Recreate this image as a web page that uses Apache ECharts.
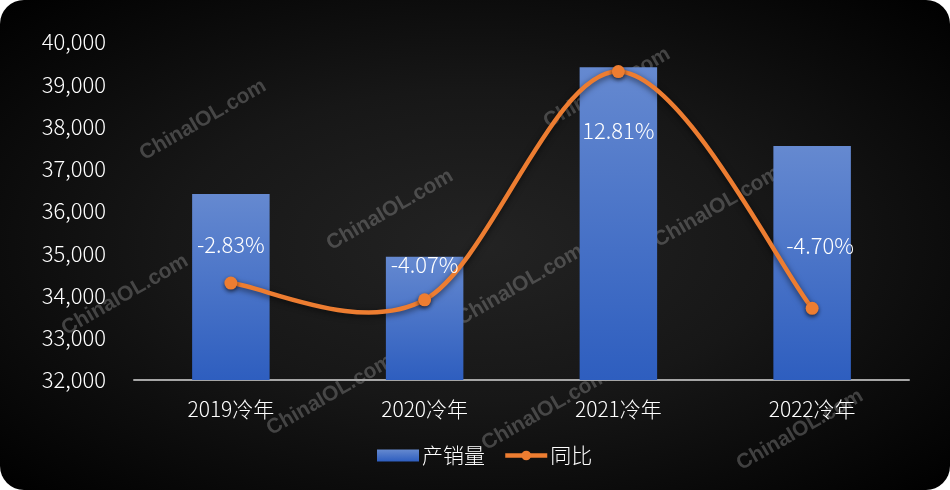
<!DOCTYPE html>
<html>
<head>
<meta charset="utf-8">
<script src="https://cdn.jsdelivr.net/npm/echarts@6/dist/echarts.min.js"></script>
<style>
  html, body { margin: 0; padding: 0; background: #ffffff; }
  #chart {
    width: 950px;
    height: 490px;
    border-radius: 24px;
    overflow: hidden;
    background: radial-gradient(ellipse at 50% 50%, #232323 0%, #171717 45%, #000000 100%);
  }
</style>
</head>
<body>
<div id="chart"></div>
<script>
// 冷年产销量及同比
const categories = ['2019冷年', '2020冷年', '2021冷年', '2022冷年']
const volumeValues = [36400, 34920, 39400, 37540]
const yoyValues = [-2.83, -4.07, 12.81, -4.70]
const yTicks = [32000, 33000, 34000, 35000, 36000, 37000, 38000, 39000, 40000]

// where each 同比 label sits relative to its point
const labelOffsets = [[0, -38], [0, -35], [0, 59], [8, -63]]

// watermark spots (center x, y)
const marks = [
  [203, 120], [390, 210], [125, 295], [520, 285], [607, 88],
  [717, 207], [330, 395], [545, 410], [800, 430]
]

const chart = echarts.init(document.getElementById('chart'))

const lineFont = 'Noto Sans CJK SC'
const orange = '#ed7d31'

// excel-like smoothed segment between point i and i+1
function renderCurve(params, api) {
  const i = params.dataIndex
  const n = yoyValues.length
  if (i >= n - 1) return null
  const P = k => {
    const j = Math.max(0, Math.min(n - 1, k))
    return api.coord([j, yoyValues[j]])
  }
  const p0 = P(i - 1), p1 = P(i), p2 = P(i + 1), p3 = P(i + 2)
  return {
    type: 'bezierCurve',
    shape: {
      x1: p1[0], y1: p1[1],
      x2: p2[0], y2: p2[1],
      cpx1: p1[0] + (p2[0] - p0[0]) / 6,
      cpy1: p1[1] + (p2[1] - p0[1]) / 6,
      cpx2: p2[0] - (p3[0] - p1[0]) / 6,
      cpy2: p2[1] - (p3[1] - p1[1]) / 6
    },
    style: {
      fill: null,
      stroke: orange,
      lineWidth: 4.5,
      lineCap: 'round',
      shadowColor: 'rgba(0,0,0,0.6)',
      shadowBlur: 6,
      shadowOffsetY: 2
    }
  }
}

const option = {
  backgroundColor: 'transparent',
  grid: {
    left: 134,
    right: 41,
    top: 42,
    bottom: 110
  },
  graphic: marks.map(m => ({
    type: 'text',
    x: m[0],
    y: m[1],
    rotation: Math.PI / 6,
    z: 0,
    zlevel: 0,
    silent: true,
    style: {
      text: 'ChinaIOL.com',
      fill: 'rgba(140,140,140,0.42)',
      font: 'bold 21px "Liberation Sans", Arial, sans-serif',
      align: 'center',
      verticalAlign: 'middle'
    }
  })),
  legend: {
    bottom: 19,
    left: 372,
    itemWidth: 42,
    itemHeight: 12,
    itemGap: 18,
    textStyle: {
      color: '#ffffff',
      fontSize: 21,
      fontFamily: lineFont,
      fontWeight: 300,
      padding: [0, 0, 0, -2]
    },
    data: [
      { name: '产销量', icon: 'rect' },
      { name: '同比', lineStyle: { color: orange, width: 4.5, opacity: 1 } }
    ]
  },
  xAxis: {
    type: 'category',
    data: categories,
    axisTick: { show: false },
    axisLine: { onZero: false, lineStyle: { color: '#a6a6a6', width: 2 } },
    axisLabel: {
      color: '#ffffff',
      fontSize: 21,
      fontFamily: lineFont,
      fontWeight: 300,
      margin: 19
    }
  },
  yAxis: [
    {
      type: 'value',
      min: yTicks[0],
      max: yTicks[yTicks.length - 1],
      interval: 1000,
      splitLine: { show: false },
      axisLine: { show: false },
      axisTick: { show: false },
      axisLabel: {
        color: '#ffffff',
        fontSize: 22,
        fontFamily: lineFont,
        fontWeight: 300,
        margin: 28,
        formatter: v => v.toLocaleString('en-US')
      }
    },
    {
      type: 'value',
      min: -10,
      max: 15,
      show: false,
      splitLine: { show: false }
    }
  ],
  series: [
    {
      name: '产销量',
      type: 'bar',
      data: volumeValues,
      barWidth: '40%',
      zlevel: 1,
      z: 2,
      itemStyle: {
        color: new echarts.graphic.LinearGradient(0, 0, 0, 1, [
          { offset: 0, color: '#6589d0' },
          { offset: 1, color: '#2e5ebf' }
        ])
      }
    },
    {
      name: '同比曲线',
      type: 'custom',
      yAxisIndex: 1,
      zlevel: 1,
      z: 3,
      silent: true,
      data: yoyValues.map((v, i) => [i, v]),
      encode: { x: 0, y: 1 },
      renderItem: renderCurve
    },
    {
      name: '同比',
      type: 'line',
      yAxisIndex: 1,
      zlevel: 1,
      z: 4,
      symbol: 'circle',
      symbolSize: 13,
      data: yoyValues.map((v, i) => ({
        value: v,
        label: { offset: labelOffsets[i] }
      })),
      lineStyle: { color: orange, width: 4.5, opacity: 0 },
      itemStyle: {
        color: orange,
        shadowColor: 'rgba(0,0,0,0.6)',
        shadowBlur: 4,
        shadowOffsetY: 2
      },
      label: {
        show: true,
        position: 'inside',
        color: '#ffffff',
        fontSize: 22,
        fontFamily: lineFont,
        fontWeight: 300,
        formatter: p => p.value.toFixed(2) + '%'
      }
    }
  ]
}

chart.setOption(option)
</script>
</body>
</html>
